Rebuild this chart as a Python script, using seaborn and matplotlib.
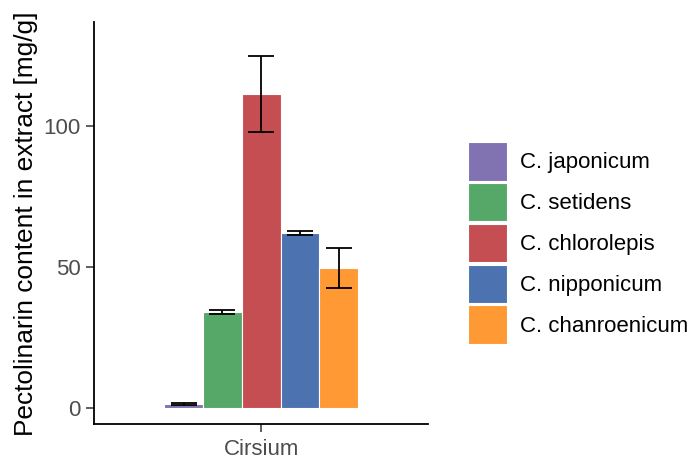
import pandas as pd
import numpy as np
import seaborn as sns
import matplotlib.pyplot as plt

# Data
genus = ["Cirsium"]
species = ["C. japonicum", "C. setidens", "C. chlorolepis", "C. nipponicum", "C. chanroenicum"]
content = [1.3, 34.1, 111.3, 61.9, 49.6]
content_err = [0.2, 0.7, 13.5, 0.7, 7.1]
colors = ["#8172B2", "#55A868", "#C44E52", "#4C72B0", "#FF9933"]

df = pd.DataFrame({
    "Genus": genus * len(species),
    "Species": species,
    "Content": content,
    "Err": content_err,
})

sns.set_style("white")
plt.rcParams['font.family'] = ['Liberation Sans', 'DejaVu Sans']

fig = plt.figure(figsize=(6.92, 4.59), dpi=100)
ax = fig.add_axes([0.1363, 0.0756, 0.4822, 0.8758])

sns.barplot(data=df, x="Genus", y="Content", hue="Species", hue_order=species,
            palette=colors, width=0.8, saturation=1, errorbar=None,
            edgecolor="white", linewidth=0.8, ax=ax)

# error bars on the bar centres
bars = [p for p in ax.patches if p.get_height() > 0][:len(species)]
bars = sorted(bars, key=lambda p: p.get_x())
xs = [p.get_x() + p.get_width() / 2 for p in bars]
ax.errorbar(xs, content, yerr=content_err, fmt="none", ecolor="black",
            elinewidth=1.3, capsize=9.5, capthick=1.3)

ax.set_xlim(-0.688, 0.688)
ax.set_ylim(-5.9, 136.8)
ax.set_yticks([0, 50, 100])
ax.set_xlabel("")
ax.set_ylabel("Pectolinarin content in extract [mg/g]", fontsize=18.9, color="black")
ax.yaxis.set_label_coords(-0.168, 0.5)

sns.despine(ax=ax)
for side in ["left", "bottom"]:
    ax.spines[side].set_color("black")
    ax.spines[side].set_linewidth(1.3)
ax.tick_params(axis="both", which="both", left=True, bottom=True, length=5.5,
               width=1.1, color="#333333", labelsize=16, labelcolor="#4D4D4D", pad=4.5)
ax.tick_params(axis="x", pad=5)

leg = ax.legend(title=None, frameon=False, fontsize=16, loc="center left",
                bbox_to_anchor=(468 / 692, 1 - 243 / 459), bbox_transform=fig.transFigure,
                borderpad=0, borderaxespad=0, handlelength=1.75, handleheight=2.3,
                labelspacing=0.1, handletextpad=0.6)
for t in leg.get_texts():
    t.set_color("black")

plt.savefig("out.png", dpi=100)
